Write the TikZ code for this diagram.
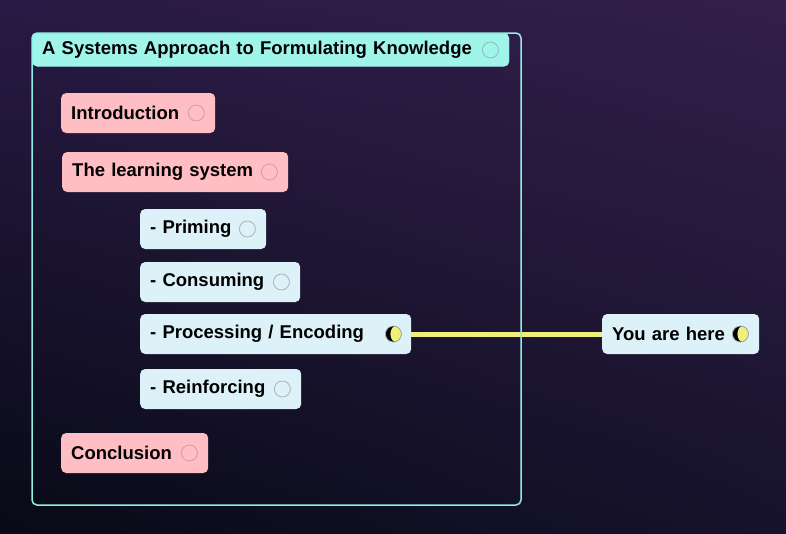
\documentclass[tikz,border=0pt]{standalone}
\usepackage{fontspec}
\newfontfamily\mapfont{Liberation Sans}
\usetikzlibrary{positioning, shadings}
\definecolor{titlecyan}{RGB}{160,245,235}
\definecolor{framecyan}{RGB}{142,239,228}
\definecolor{topicpink}{RGB}{255,189,196}
\definecolor{subblue}{RGB}{221,241,249}
\definecolor{linkyellow}{RGB}{238,240,122}
\definecolor{bgtl}{RGB}{40,26,68}
\definecolor{bgtr}{RGB}{52,31,74}
\definecolor{bgbl}{RGB}{8,10,22}
\definecolor{bgbr}{RGB}{22,19,44}
\tikzset{
    box/.style={rectangle, rounded corners=5pt, minimum height=40pt, inner xsep=10pt,
        inner ysep=0pt, anchor=west, align=left, text=black,
        font=\mapfont\bfseries\fontsize{18.5}{22}\selectfont},
    topic/.style={box, fill=topicpink},
    subtopic/.style={box, fill=subblue},
    dot/.style={circle, minimum size=16pt, inner sep=0pt, line width=0.8pt},
    pinkdot/.style={dot, draw=topicpink!55!gray, fill=topicpink},
    bluedot/.style={dot, draw=subblue!45!gray, fill=subblue},
    moon/.style={dot, draw=gray!70, fill=black,
        path picture={\fill[linkyellow] ([xshift=2.5pt]path picture bounding box.center) ellipse (5.5pt and 8pt);}}
}

\begin{document}
\begin{tikzpicture}[x=1pt, y=-1pt]
    \useasboundingbox (0,0) rectangle (786,533);
    \shade[upper left=bgtl, upper right=bgtr, lower left=bgbl, lower right=bgbr] (0,0) rectangle (786,533);

    % title bar of the frame
    \fill[titlecyan, rounded corners=5pt] (32,33) rectangle (509,66);
    \node[box, fill=titlecyan, text width=457pt, minimum height=33pt] (title) at (32,50) {A Systems Approach to Formulating Knowledge};
    \node[dot, draw=titlecyan!50!gray, fill=titlecyan] (title-dot) at ([xshift=-19pt]title.east) {};

    % topics
    \node[topic, text width=134pt] (intro) at (61,113) {Introduction};
    \node[topic, text width=206pt] (learning) at (62,172) {The learning system};
    \node[subtopic, text width=106pt] (priming) at (140,229) {- Priming};
    \node[subtopic, text width=140pt] (consuming) at (140,282) {- Consuming};
    \node[subtopic, text width=251pt] (processing) at (140,334) {- Processing / Encoding};
    \node[subtopic, text width=141pt] (reinforcing) at (140,389) {- Reinforcing};
    \node[topic, text width=127pt] (conclusion) at (61,453) {Conclusion};
    \node[subtopic, text width=137pt] (here) at (602,334) {You are here};

    \node[pinkdot] (intro-dot) at ([xshift=-19pt]intro.east) {};
    \node[pinkdot] (learning-dot) at ([xshift=-19pt]learning.east) {};
    \node[bluedot] (priming-dot) at ([xshift=-19pt]priming.east) {};
    \node[bluedot] (consuming-dot) at ([xshift=-19pt]consuming.east) {};
    \node[moon] (processing-dot) at ([xshift=-18pt]processing.east) {};
    \node[bluedot] (reinforcing-dot) at ([xshift=-19pt]reinforcing.east) {};
    \node[pinkdot] (conclusion-dot) at ([xshift=-19pt]conclusion.east) {};
    \node[moon] (here-dot) at ([xshift=-19pt]here.east) {};

    \draw[linkyellow, line width=5pt] (processing) -- (here);

    % frame round the map
    \draw[framecyan, line width=1.5pt, rounded corners=5pt] (32,33) rectangle (521,505);
\end{tikzpicture}
\end{document}
